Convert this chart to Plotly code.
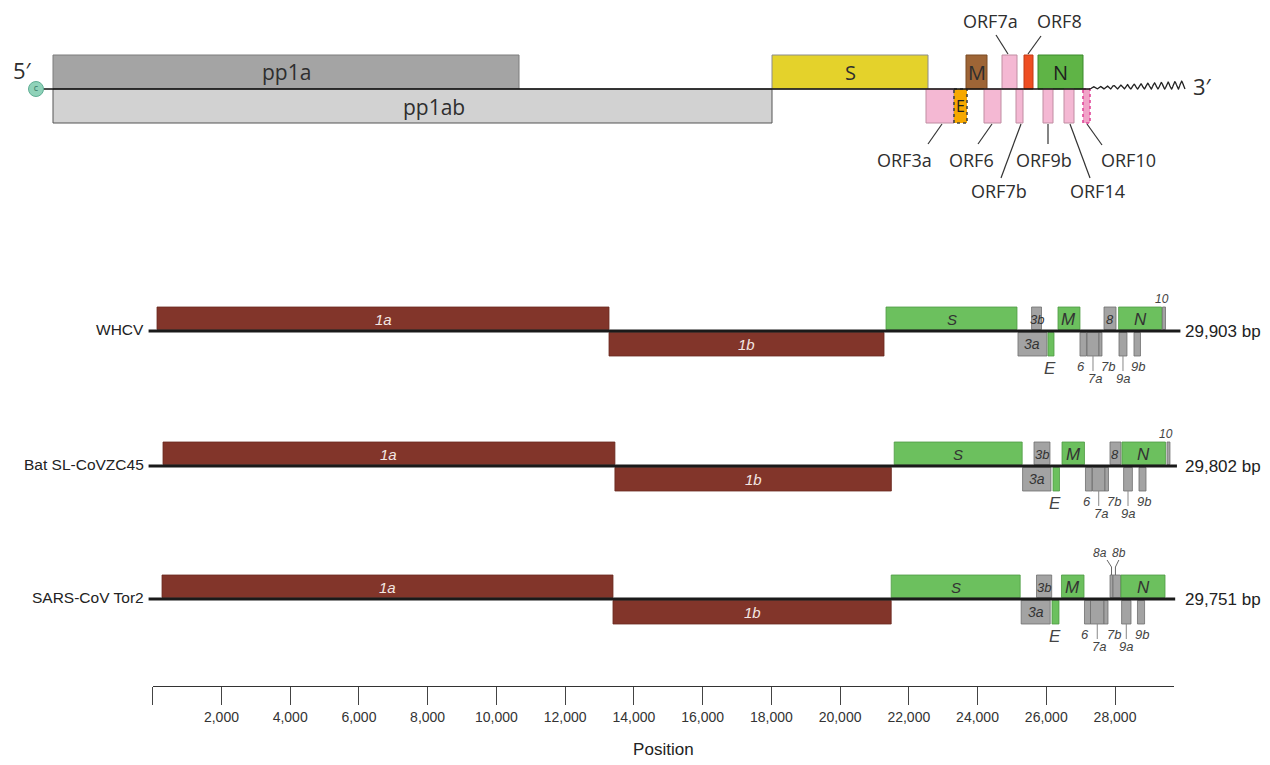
import math
import plotly.graph_objects as go

# ---------------- Top schematic (SARS-CoV-2 genome organisation, schematic units) ----------------
top_names = ['pp1a', 'pp1ab', 'S', 'ORF3a', 'E', 'M', 'ORF6', 'ORF7a', 'ORF7b', 'ORF8', 'N',
             'ORF9b', 'ORF14', 'ORF10']
top_start = [53, 53, 772, 926, 954, 966, 984, 1002, 1016, 1024, 1038, 1043, 1064, 1083]
top_end = [519, 772, 928, 954, 967, 987, 1001, 1017, 1023, 1033, 1083, 1053, 1074, 1090]
top_side = ['up', 'down', 'up', 'down', 'down', 'up', 'down', 'up', 'down', 'up', 'up',
            'down', 'down', 'down']
top_fill = ['#a4a4a4', '#d2d2d2', '#e4d22b', '#f4b8d3', '#f6a800', '#9e6536', '#f4b8d3',
            '#f4b8d3', '#f4b8d3', '#ee4e22', '#5fb446', '#f4b8d3', '#f4b8d3', '#f1a3c8']
top_edge = ['#7c7c7c', '#555555', '#8c8c8c', '#c08da2', '#444444', '#7a4a22', '#c08da2',
            '#c08da2', '#c08da2', '#c23a14', '#3b8a2a', '#c08da2', '#c08da2', '#e0489a']
top_genome_end = 1090

# ---------------- Lower panel: genome organisation (bp) ----------------
rows = ['WHCV', 'Bat SL-CoVZC45', 'SARS-CoV Tor2']
genome_len = [29903, 29802, 29751]

whcv_names = ['1a', '1b', 'S', '3a', '3b', 'E', 'M', '6', '7a', '7b', '8', 'N', '10', '9a', '9b']
whcv_start = [125, 13277, 21337, 25177, 25573, 26050, 26341, 26981, 27185, 27534, 27680, 28105,
              29382, 28116, 28552]
whcv_end = [13277, 21279, 25148, 26021, 25861, 26225, 26981, 27170, 27534, 27621, 28029, 29353,
            29469, 28348, 28741]

bat_names = ['1a', '1b', 'S', '3a', '3b', 'E', 'M', '6', '7a', '7b', '8', 'N', '10', '9a', '9b']
bat_start = [300, 13449, 21575, 25311, 25643, 26196, 26458, 27141, 27345, 27708, 27854, 28203,
             29512, 28250, 28698]
bat_end = [13449, 21493, 25299, 26137, 26108, 26385, 27112, 27330, 27708, 27810, 28174, 29469,
           29599, 28506, 28902]

sars_names = ['1a', '1b', 'S', '3a', '3b', 'E', 'M', '6', '7a', '7b', '8a', '8b', 'N', '9a', '9b']
sars_start = [271, 13393, 21488, 25270, 25716, 26167, 26443, 27112, 27287, 27680, 27855, 27942,
              28174, 28192, 28654]
sars_end = [13393, 21488, 25241, 26114, 26158, 26370, 27098, 27287, 27680, 27796, 27942, 28163,
            29455, 28465, 28861]

tick_vals = [0, 2000, 4000, 6000, 8000, 10000, 12000, 14000, 16000, 18000, 20000, 22000,
             24000, 26000, 28000]
tick_text = [''] + [f'{v:,}' for v in tick_vals[1:]]
ruler_end = 29717

# ---------------- layout constants (page pixels) ----------------
W, H = 1270, 765
OFF = 8               # page body margin
K = 0.034368          # px per bp
X0 = 152.7            # page px position of bp 0
AX_Y = 686            # page px of ruler line
row_y = [331, 466, 599]
BH = 24
TOP_Y = 89
TBH = 34

up_genes = {'1a', 'S', '3b', 'M', '8', '8a', '8b', 'N', '10'}
green = {'S', 'E', 'M', 'N'}
brown = {'1a', '1b'}

SANS = 'Liberation Sans Narrow, Liberation Sans, Arial, sans-serif'
MYR = 'Open Sans, Noto Sans, sans-serif'

fig = go.Figure()


def rect(x0, x1, ya, yb, fill, edge, xaxis='x', width=1.0, dash='solid'):
    fig.add_trace(go.Scatter(
        x=[x0, x1, x1, x0, x0], y=[ya, ya, yb, yb, ya], xaxis=xaxis, yaxis='y',
        mode='lines', fill='toself', fillcolor=fill,
        line=dict(color=edge, width=width, dash=dash), hoverinfo='skip', showlegend=False))


def seg(xs, ys, color='#555', width=1.0, xaxis='x'):
    fig.add_trace(go.Scatter(x=xs, y=ys, xaxis=xaxis, yaxis='y', mode='lines',
                             line=dict(color=color, width=width), hoverinfo='skip',
                             showlegend=False))


annotations = []


def label(x, y, text, size=14, color='#333', xref='x', xanchor='center', family=SANS,
          xshift=0, italic=False):
    annotations.append(dict(x=x, y=y, xref=xref, yref='y',
                            text=f'<i>{text}</i>' if italic else text,
                            showarrow=False, xanchor=xanchor, yanchor='middle', xshift=xshift,
                            font=dict(size=size, color=color, family=family)))


def px_paper(px):
    return (px - OFF) / W


# ---------------- top schematic ----------------
for n, s, e, side, f, ed in zip(top_names, top_start, top_end, top_side, top_fill, top_edge):
    ya, yb = (TOP_Y - TBH, TOP_Y) if side == 'up' else (TOP_Y, TOP_Y + TBH)
    dash = 'dot' if n in ('E', 'ORF10') else 'solid'
    wd = 1.6 if n in ('E', 'ORF10') else 1.0
    rect(s, e, ya, yb, f, ed, xaxis='x2', width=wd, dash=dash)
seg([36, top_genome_end], [TOP_Y, TOP_Y], color='#111', width=1.5, xaxis='x2')

tmid = {n: (s + e) / 2 for n, s, e in zip(top_names, top_start, top_end)}
label(tmid['pp1a'], 72, 'pp1a', 21, '#2e2e2e', 'x2', family=MYR)
label(tmid['pp1ab'], 107, 'pp1ab', 21, '#2e2e2e', 'x2', family=MYR, xshift=21)
label(tmid['S'], 72, 'S', 20, '#2e2e2e', 'x2', family=MYR)
label(tmid['M'], 72, 'M', 20, '#2e2e2e', 'x2', family=MYR)
label(tmid['N'], 72, 'N', 20, '#1e1e1e', 'x2', family=MYR)
label(tmid['E'], 106, 'E', 16, '#1e1e1e', 'x2', family=MYR)

# outer ORF labels: (name, text x, text y, leader start, leader end)
orf_labels = [
    ('ORF7a', 990, 21, (1008, 54), (996, 35)),
    ('ORF8', 1059, 21, (1028, 54), (1041, 36)),
    ('ORF3a', 904, 160, (942, 124), (928, 144)),
    ('ORF6', 971, 160, (992, 124), (978, 144)),
    ('ORF9b', 1044, 160, (1048, 124), (1048, 144)),
    ('ORF10', 1128, 160, (1087, 124), (1102, 145)),
    ('ORF7b', 999, 191, (1021, 124), (1001, 178)),
    ('ORF14', 1097, 191, (1070, 124), (1090, 178)),
]
lx, ly = [], []
for name, tx, ty, p0, p1 in orf_labels:
    label(tx, ty, name, 18, '#2e2e2e', 'x2', family=MYR)
    lx += [p0[0], p1[0], None]
    ly += [p0[1], p1[1], None]
seg(lx, ly, color='#333', width=1.2, xaxis='x2')

# poly-A tail squiggle (decoration)
tail_x, tail_y = [], []
n_pts = 400
for i in range(n_pts + 1):
    t = i / n_pts
    amp = 2 + 6 * t
    tail_x.append(1090 + 95 * t)
    tail_y.append(TOP_Y - amp * (0.5 - 0.5 * math.cos(2 * math.pi * 14 * t)))
seg(tail_x, tail_y, color='#222', width=1.3, xaxis='x2')
label(1202, 86, "3′", 22, '#2e2e2e', 'x2', family=MYR)
label(22, 70, "5′", 22, '#2e2e2e', 'x2', family=MYR)
fig.add_trace(go.Scatter(x=[36], y=[TOP_Y], xaxis='x2', yaxis='y', mode='markers+text',
                         marker=dict(size=15, color='#8fd2b9', line=dict(color='#5fae94', width=1)),
                         text=['c'], textposition='middle center',
                         textfont=dict(size=9, color='#3c7a66', family=MYR),
                         hoverinfo='skip', showlegend=False))

# ---------------- lower rows ----------------
row_data = [(whcv_names, whcv_start, whcv_end), (bat_names, bat_start, bat_end),
            (sars_names, sars_start, sars_end)]

for r, (ly0, (names, starts, ends)) in enumerate(zip(row_y, row_data)):
    mids = {}
    for n, s, e in zip(names, starts, ends):
        mids[n] = (s + e) / 2
        if n in brown:
            f, ed = '#82352a', '#6a2a20'
        elif n in green:
            f, ed = '#6cc05e', '#4f9a44'
        else:
            f, ed = '#a3a3a3', '#6f6f6f'
        if n in up_genes:
            rect(s, e, ly0 - BH, ly0 - 1.5, f, ed, width=0.8)
        else:
            rect(s, e, ly0 + 1.5, ly0 + BH + 1, f, ed, width=0.8)
    seg([-120, genome_len[r]], [ly0, ly0], color='#1a1a1a', width=3)

    ends_d = dict(zip(names, ends))
    # inside labels
    label(mids['1a'], ly0 - 12, '1a', 15, '#f3e6e2', italic=True)
    label(mids['1b'], ly0 + 13, '1b', 15, '#f3e6e2', italic=True)
    label(mids['S'], ly0 - 12, 'S', 15, '#333', italic=True)
    label(mids['3a'], ly0 + 13, '3a', 14, '#333', italic=True)
    label(mids['3b'], ly0 - 12, '3b', 13, '#333', italic=True)
    label(mids['M'], ly0 - 12, 'M', 17, '#333', italic=True)
    label(mids['N'], ly0 - 12, 'N', 17, '#333', italic=True)
    if '8' in mids:
        label(mids['8'], ly0 - 12, '8', 13, '#333', italic=True)
    if '10' in mids:
        label(mids['10'], ly0 - 32, '10', 12, '#444', italic=True, xshift=-2)
    # outer labels below
    label(mids['E'], ly0 + 37, 'E', 17, '#444', italic=True, xshift=-1)
    label(mids['6'], ly0 + 35, '6', 13, '#444', italic=True, xshift=-2)
    label(ends_d['7b'], ly0 + 35, '7b', 13, '#444', italic=True, xshift=6)
    label(mids['9b'], ly0 + 35, '9b', 13, '#444', italic=True, xshift=1)
    label(mids['7a'], ly0 + 47, '7a', 13, '#444', italic=True, xshift=2)
    label(mids['9a'], ly0 + 47, '9a', 13, '#444', italic=True)
    seg([mids['7a'], mids['7a'], None, mids['9a'], mids['9a']],
        [ly0 + BH + 1, ly0 + 40, None, ly0 + BH + 1, ly0 + 40], color='#888', width=1)
    if '8a' in mids:
        a, b = mids['8a'], mids['8b']
        seg([a, a, a - 130, None, b - 40, b - 40, b + 60],
            [ly0 - BH, ly0 - 32, ly0 - 39, None, ly0 - BH, ly0 - 32, ly0 - 39],
            color='#666', width=1)
        label(a, ly0 - 46, '8a', 12, '#444', italic=True, xshift=-12)
        label(b, ly0 - 46, '8b', 12, '#444', italic=True, xshift=2)

    # row names and genome sizes
    annotations.append(dict(x=px_paper(146), y=ly0 - 2, xref='paper', yref='y', text=rows[r],
                            showarrow=False, xanchor='right', yanchor='middle',
                            font=dict(size=15.5, color='#222', family=SANS)))
    annotations.append(dict(x=px_paper(1183), y=ly0, xref='paper', yref='y',
                            text=f'{genome_len[r]:,} bp', showarrow=False, xanchor='left',
                            yanchor='middle', font=dict(size=17, color='#222', family=SANS)))

# ruler (x3 axis) anchor trace, invisible
fig.add_trace(go.Scatter(x=[0, ruler_end], y=[AX_Y, AX_Y], xaxis='x3', yaxis='y', mode='lines',
                         line=dict(color='rgba(0,0,0,0)'), hoverinfo='skip', showlegend=False))

ydom0 = (H - (AX_Y - OFF)) / H
x_lo = (OFF - X0) / K
x_hi = (OFF + W - X0) / K
fig.update_layout(
    width=W, height=H, margin=dict(l=0, r=0, t=0, b=0),
    paper_bgcolor='white', plot_bgcolor='rgba(0,0,0,0)', showlegend=False,
    xaxis=dict(domain=[0, 1], range=[x_lo, x_hi], visible=False, anchor='y'),
    xaxis2=dict(domain=[0, 1], range=[OFF, OFF + W], visible=False, anchor='y', overlaying='x'),
    xaxis3=dict(domain=[px_paper(X0), px_paper(X0 + ruler_end * K)], range=[0, ruler_end],
                anchor='y', showline=True, linecolor='#333', linewidth=1.3, ticks='outside',
                ticklen=18, tickwidth=1, tickcolor='#444', tickvals=tick_vals,
                ticktext=tick_text, tickfont=dict(size=14, color='#333', family=SANS),
                showgrid=False, zeroline=False,
                title=dict(text='Position', font=dict(size=17, color='#222', family=SANS),
                           standoff=19)),
    yaxis=dict(domain=[ydom0, 1], range=[AX_Y, OFF], visible=False, anchor='x'),
    annotations=annotations,
)

fig.write_html('out.html')
